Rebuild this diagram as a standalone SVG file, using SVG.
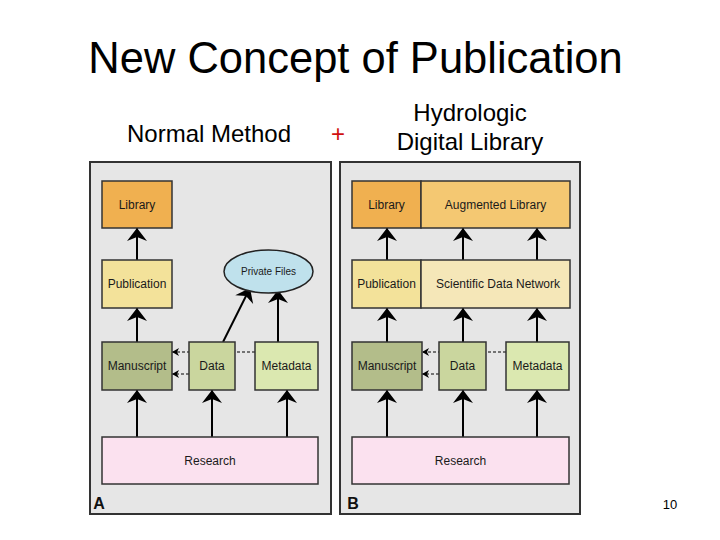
<svg xmlns="http://www.w3.org/2000/svg" width="720" height="540" viewBox="0 0 720 540">
<style>
text{font-family:"Liberation Sans",Arial,sans-serif;}
.t{font-size:12px;fill:#1a1a1a;text-anchor:middle;}
.box{stroke:#333;stroke-width:1.5;}
.panel{fill:#e6e6e6;stroke:#333;stroke-width:2;}
.arr{stroke:#000;stroke-width:2;fill:none;marker-end:url(#ah);}
.dash{stroke:#000;stroke-width:1;fill:none;stroke-dasharray:3,2;marker-end:url(#sh);}
.hd{font-size:24px;fill:#000;text-anchor:middle;}
.lbl{font-size:16px;font-weight:bold;fill:#111;text-anchor:middle;}
</style>
<defs>
<marker id="ah" viewBox="-14 -11 15 22" refX="0" refY="0" markerWidth="15" markerHeight="22" markerUnits="userSpaceOnUse" orient="auto">
<path d="M0,0 L-13,-10 L-9,0 L-13,10 Z" fill="#000"/>
</marker>
<marker id="sh" viewBox="-8 -5 9 10" refX="0" refY="0" markerWidth="9" markerHeight="10" markerUnits="userSpaceOnUse" orient="auto">
<path d="M0,0 L-7,-4 L-5,0 L-7,4 Z" fill="#000"/>
</marker>
</defs>
<rect width="720" height="540" fill="#fff"/>
<text x="355.5" y="73" style="font-size:43.5px;fill:#000;text-anchor:middle">New Concept of Publication</text>
<text class="hd" x="209" y="142">Normal Method</text>
<text x="338" y="142" style="font-size:24px;fill:#d01010;text-anchor:middle">+</text>
<text class="hd" x="470" y="121">Hydrologic</text>
<text class="hd" x="470" y="150">Digital Library</text>
<text x="670" y="509" style="font-size:13px;fill:#000;text-anchor:middle">10</text>

<g id="panelA"><rect class="panel" x="90" y="162" width="241" height="352"/><text class="lbl" x="99" y="509">A</text></g>
<g id="panelB"><rect class="panel" x="340" y="162" width="240" height="352"/><text class="lbl" x="353" y="509">B</text></g>

<g id="connectors">
<line class="arr" x1="137" y1="437" x2="137" y2="390"/>
<line class="arr" x1="137" y1="342" x2="137" y2="308"/>
<line class="arr" x1="137" y1="260" x2="137" y2="228"/>
<line class="arr" x1="212" y1="437" x2="212" y2="390"/>
<line class="arr" x1="287" y1="437" x2="287" y2="390"/>
<line class="arr" x1="223" y1="342" x2="250" y2="288"/>
<line class="arr" x1="278" y1="342" x2="278" y2="290"/>
<line class="dash" x1="255" y1="352" x2="172" y2="352"/>
<line class="dash" x1="189" y1="374" x2="172" y2="374"/>

<line class="arr" x1="387" y1="437" x2="387" y2="390"/>
<line class="arr" x1="387" y1="342" x2="387" y2="308"/>
<line class="arr" x1="387" y1="260" x2="387" y2="228"/>
<line class="arr" x1="463" y1="437" x2="463" y2="390"/>
<line class="arr" x1="463" y1="342" x2="463" y2="308"/>
<line class="arr" x1="463" y1="260" x2="463" y2="228"/>
<line class="arr" x1="537" y1="437" x2="537" y2="390"/>
<line class="arr" x1="537" y1="342" x2="537" y2="308"/>
<line class="arr" x1="537" y1="260" x2="537" y2="228"/>
<line class="dash" x1="506" y1="352" x2="422" y2="352"/>
<line class="dash" x1="439" y1="374" x2="422" y2="374"/>
</g>

<g id="A-library"><rect class="box" x="102" y="181" width="70" height="47" fill="#f0b050"/><text class="t" x="137" y="208.5">Library</text></g>
<g id="A-publication"><rect class="box" x="102" y="260" width="70" height="48" fill="#f3e29a"/><text class="t" x="137" y="288">Publication</text></g>
<g id="A-private"><ellipse cx="268.5" cy="271.5" rx="44.5" ry="21.5" fill="#bfe1ec" stroke="#222" stroke-width="1.5"/><text x="268.5" y="275" style="font-size:10px;fill:#1a1a1a;text-anchor:middle">Private Files</text></g>
<g id="A-manuscript"><rect class="box" x="102" y="342" width="70" height="48" fill="#b3bd8a"/><text class="t" x="137" y="370">Manuscript</text></g>
<g id="A-data"><rect class="box" x="189" y="342" width="46" height="48" fill="#cad69e"/><text class="t" x="212" y="370">Data</text></g>
<g id="A-metadata"><rect class="box" x="255" y="342" width="63" height="48" fill="#dbe8b0"/><text class="t" x="286.5" y="370">Metadata</text></g>
<g id="A-research"><rect class="box" x="102" y="437" width="216" height="47" fill="#fbe1ef"/><text class="t" x="210" y="464.5">Research</text></g>

<g id="B-library"><rect class="box" x="352" y="181" width="69" height="47" fill="#f0b050"/><text class="t" x="386.5" y="208.5">Library</text></g>
<g id="B-augmented"><rect class="box" x="421" y="181" width="149" height="47" fill="#f4c872"/><text class="t" x="495.5" y="208.5">Augmented Library</text></g>
<g id="B-publication"><rect class="box" x="352" y="260" width="69" height="48" fill="#f3e29a"/><text class="t" x="386.5" y="288">Publication</text></g>
<g id="B-sdn"><rect class="box" x="421" y="260" width="149" height="48" fill="#f5e7b8"/><text class="t" x="498" y="288">Scientific Data Network</text></g>
<g id="B-manuscript"><rect class="box" x="352" y="342" width="70" height="48" fill="#b3bd8a"/><text class="t" x="387" y="370">Manuscript</text></g>
<g id="B-data"><rect class="box" x="439" y="342" width="47" height="48" fill="#cad69e"/><text class="t" x="462.5" y="370">Data</text></g>
<g id="B-metadata"><rect class="box" x="506" y="342" width="63" height="48" fill="#dbe8b0"/><text class="t" x="537.5" y="370">Metadata</text></g>
<g id="B-research"><rect class="box" x="352" y="437" width="217" height="47" fill="#fbe1ef"/><text class="t" x="460.5" y="464.5">Research</text></g>
</svg>
